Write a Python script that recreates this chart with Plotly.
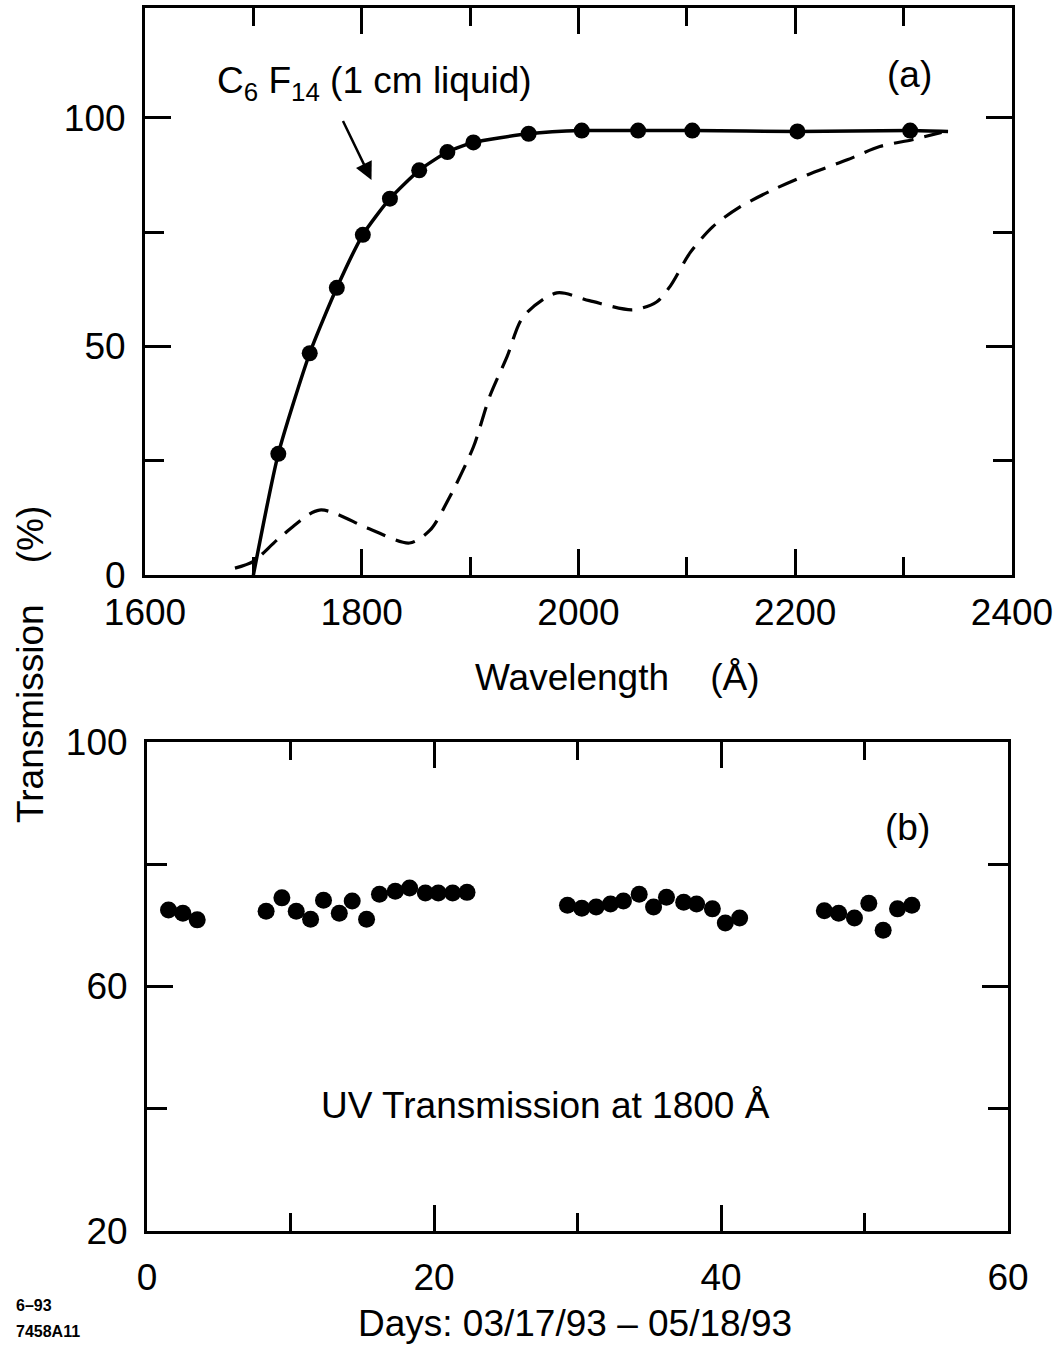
import plotly.graph_objects as go

# ---------- Panel (a): transmission spectrum ----------
wl_pts = [1723, 1752, 1777, 1801, 1826, 1853, 1879, 1903, 1954, 2003, 2055, 2105, 2202, 2306]
tr_pts = [26.5, 48.5, 62.8, 74.4, 82.3, 88.5, 92.5, 94.6, 96.5, 97.2, 97.2, 97.2, 97.0, 97.2]

wl_curve = [1700] + wl_pts + [2341]
tr_curve = [0] + tr_pts + [97.0]

wl_dash = [1683, 1700, 1725, 1761, 1805, 1844, 1863, 1881, 1903, 1918, 1934, 1949, 1980,
           2010, 2050, 2072, 2085, 2103, 2124, 2149, 2179, 2211, 2248, 2278, 2308, 2335]
tr_dash = [1.5, 3.0, 8.3, 14.2, 10.3, 7.0, 9.8, 17.0, 28.0, 39.0, 47.7, 56.5, 61.7,
           60.0, 58.0, 59.7, 63.3, 70.5, 76.2, 80.5, 84.2, 87.5, 90.8, 93.7, 95.2, 96.8]

# ---------- Panel (b): transmission at 1800 A vs day ----------
days = [1.5, 2.5, 3.5, 8.3, 9.4, 10.4, 11.4, 12.3, 13.4, 14.3, 15.3, 16.2, 17.3, 18.3,
        19.4, 20.3, 21.3, 22.3, 29.3, 30.3, 31.3, 32.3, 33.2, 34.3, 35.3, 36.2, 37.4,
        38.3, 39.4, 40.3, 41.3, 47.2, 48.2, 49.3, 50.3, 51.3, 52.3, 53.3]
trans = [72.5, 72.0, 70.9, 72.3, 74.5, 72.3, 71.0, 74.1, 72.0, 74.0, 71.0, 75.1, 75.6, 76.1,
         75.3, 75.3, 75.3, 75.4, 73.3, 72.8, 73.0, 73.5, 74.0, 75.1, 73.0, 74.6, 73.8,
         73.5, 72.7, 70.4, 71.2, 72.4, 72.0, 71.2, 73.6, 69.2, 72.7, 73.3]

FONT = "Liberation Sans, Arial, Helvetica, sans-serif"
FS = 37
NB = "\u00a0"

fig = go.Figure()

fig.add_trace(go.Scatter(x=wl_dash, y=tr_dash, mode="lines",
                         line=dict(color="black", width=3.2, dash="20px,11px", shape="spline", smoothing=0.8),
                         xaxis="x", yaxis="y", showlegend=False, hoverinfo="skip"))
fig.add_trace(go.Scatter(x=wl_curve, y=tr_curve, mode="lines",
                         line=dict(color="black", width=3.5, shape="spline", smoothing=0.6),
                         xaxis="x", yaxis="y", showlegend=False))
fig.add_trace(go.Scatter(x=wl_pts, y=tr_pts, mode="markers",
                         marker=dict(color="black", size=16),
                         xaxis="x", yaxis="y", showlegend=False))

fig.add_trace(go.Scatter(x=days, y=trans, mode="markers",
                         marker=dict(color="black", size=17),
                         xaxis="x2", yaxis="y2", showlegend=False))

axis_common = dict(showline=True, linecolor="black", linewidth=3, mirror="ticks",
                   ticks="inside", tickcolor="black", tickwidth=2.5, ticklen=26,
                   showgrid=False, zeroline=False, automargin=False,
                   tickfont=dict(family=FONT, size=FS, color="black"))

fig.update_layout(
    width=1055, height=1349, autosize=False,
    margin=dict(l=0, r=0, t=0, b=0, pad=0),
    paper_bgcolor="white", plot_bgcolor="white",
    font=dict(family=FONT, size=FS, color="black"),
    xaxis=dict(domain=[145/1055, 1012/1055], range=[1600, 2400], tickmode="linear",
               tick0=1600, dtick=200, anchor="y", ticklabelstandoff=3,
               minor=dict(dtick=100, ticks="inside", ticklen=18, tickwidth=2.5, tickcolor="black"),
               **axis_common),
    yaxis=dict(domain=[(1349-575)/1349, (1349-8)/1349], range=[0, 124], tickmode="linear",
               tick0=0, dtick=50, anchor="x", ticklabelstandoff=9,
               minor=dict(dtick=25, ticks="inside", ticklen=19, tickwidth=2.5, tickcolor="black"),
               **axis_common),
    xaxis2=dict(domain=[147/1055, 1008/1055], range=[0, 60], tickmode="linear",
                tick0=0, dtick=20, anchor="y2", ticklabelstandoff=12,
                minor=dict(dtick=10, ticks="inside", ticklen=18, tickwidth=2.5, tickcolor="black"),
                **axis_common),
    yaxis2=dict(domain=[(1349-1231)/1349, (1349-742)/1349], range=[20, 100], tickmode="linear",
                tick0=20, dtick=40, anchor="x2", ticklabelstandoff=9,
                minor=dict(dtick=20, ticks="inside", ticklen=20, tickwidth=2.5, tickcolor="black"),
                **axis_common),
)

ann_font = dict(family=FONT, size=FS, color="black")
annotations = [
    dict(x=1812, y=107.5, xref="x", yref="y", text="C<sub>6</sub> F<sub>14</sub> (1 cm liquid)",
         showarrow=False, font=ann_font, xanchor="center", yanchor="middle"),
    dict(x=1809, y=86.4, ax=1782, ay=99.6, xref="x", yref="y", axref="x", ayref="y",
         text="", showarrow=True, arrowhead=2, arrowsize=1.4, arrowwidth=2.5, arrowcolor="black"),
    dict(x=2305, y=109.5, xref="x", yref="y", text="(a)", showarrow=False, font=ann_font,
         xanchor="center", yanchor="middle"),
    dict(x=53.0, y=86.0, xref="x2", yref="y2", text="(b)", showarrow=False, font=ann_font,
         xanchor="center", yanchor="middle"),
    dict(x=27.8, y=40.5, xref="x2", yref="y2", text="UV Transmission at 1800 Å", showarrow=False,
         font=ann_font, xanchor="center", yanchor="middle"),
    dict(x=617/1055, y=(1349-677)/1349, xref="paper", yref="paper",
         text="Wavelength" + NB * 4 + "(Å)", showarrow=False, font=ann_font,
         xanchor="center", yanchor="middle"),
    dict(x=575/1055, y=(1349-1323)/1349, xref="paper", yref="paper",
         text="Days: 03/17/93 – 05/18/93", showarrow=False, font=ann_font,
         xanchor="center", yanchor="middle"),
    dict(x=30/1055, y=(1349-665)/1349, xref="paper", yref="paper",
         text="Transmission" + NB * 4 + "(%)", showarrow=False, font=ann_font, textangle=-90,
         xanchor="center", yanchor="middle"),
    dict(x=14/1055, y=(1349-1305)/1349, xref="paper", yref="paper", text="<b>6–93</b>",
         showarrow=False, font=dict(family=FONT, size=16, color="black"),
         xanchor="left", yanchor="middle"),
    dict(x=14/1055, y=(1349-1331)/1349, xref="paper", yref="paper", text="<b>7458A11</b>",
         showarrow=False, font=dict(family=FONT, size=16, color="black"),
         xanchor="left", yanchor="middle"),
]
fig.update_layout(annotations=annotations)

fig.write_html("out.html")
